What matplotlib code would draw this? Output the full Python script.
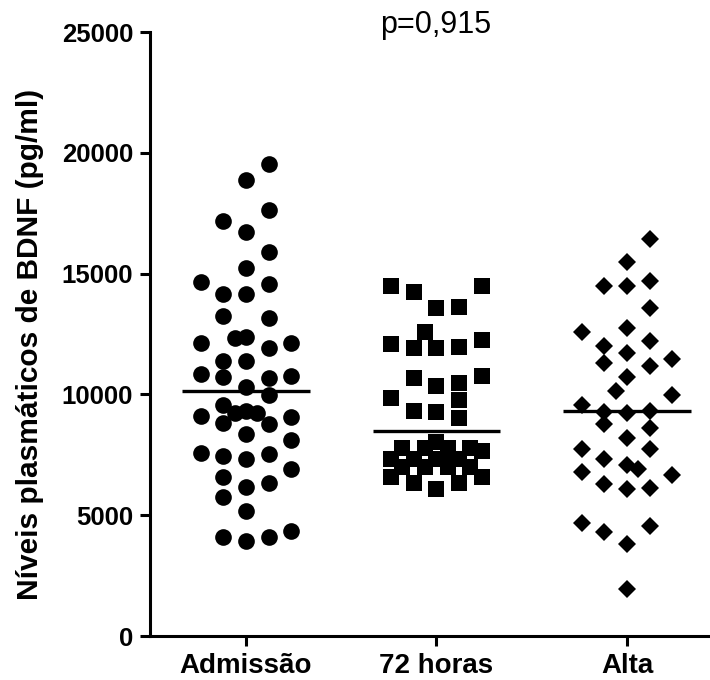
import matplotlib
matplotlib.use("Agg")
import matplotlib.pyplot as plt
import numpy as np

plt.rcParams['font.family'] = ['Liberation Sans', 'DejaVu Sans']

categories = ["Admissão", "72 horas", "Alta"]
ylabel = "Níveis plasmáticos de BDNF (pg/ml)"
p_text = "p=0,915"
yticks = [0, 5000, 10000, 15000, 20000, 25000]

# Admissão (circles)
adm_vals = [19536, 18874, 17632, 17190, 16709, 15907, 15217, 14640, 14155, 14155,
            14570, 13245, 13150, 12115, 12322, 12388, 11908, 12140, 11395, 11395,
            10832, 10733, 10666, 10761, 10318, 9975, 9561, 9217, 9325, 9217,
            9118, 8804, 8775, 9052, 8361, 8112, 7587, 7463, 7326, 7533,
            6900, 6594, 6153, 6318, 5741, 5186, 4110, 3945, 4085, 4358]
adm_cols = [1, 0, 1, -1, 0, 1, 0, -2, -1, 0,
            1, -1, 1, -2, -0.5, 0, 1, 2, -1, 0,
            -2, -1, 1, 2, 0, 1, -1, -0.5, 0, 0.5,
            -2, -1, 1, 2, 0, 2, -2, -1, 0, 1,
            2, -1, 0, 1, -1, 0, -1, 0, 1, 2]

# 72 horas (squares)
h72_vals = [14487, 14224, 14487, 13563, 13631, 12596, 12074, 11935, 11908, 11976,
            12253, 10692, 10348, 10458, 10775, 9838, 9313, 9285, 9768, 9010,
            8030, 7794, 7794, 7794, 7794, 7670,
            7339, 7339, 7339, 7339, 7170,
            7007, 7007, 7007, 7007,
            6569, 6569, 6320, 6320, 6084]
h72_cols = [-2, -1, 2, 0, 1, -0.5, -2, -1, 0, 1,
            2, -1, 0, 1, 2, -2, -1, 0, 1, 1,
            0, -1.5, -0.5, 0.5, 1.5, 2,
            -2, -1, 0, 1, 0.5,
            -1.5, -0.5, 0.5, 1.5,
            -2, 2, -1, 1, 0]

# Alta (diamonds)
alta_vals = [16432, 15467, 14487, 14487, 14694, 13563, 12596, 12736, 12017, 12225,
             11701, 11315, 11177, 11453, 10733, 10154, 9975, 9561, 9285, 9243,
             9325, 8762, 8597, 8208, 7728, 7728, 7314, 7078, 6900, 6800,
             6664, 6279, 6084, 6138, 4690, 4317, 4553, 3808, 1933]
alta_cols = [1, 0, -1, 0, 1, 1, -2, 0, -1, 1,
             0, -1, 1, 2, 0, -0.5, 2, -2, -1, 0,
             1, -1, 1, 0, -2, 1, -1, 0, 0.5, -2,
             2, -1, 0, 1, -2, -1, 1, 0, 0]

medians = [10150, 8490, 9310]

fig = plt.figure(figsize=(7.1, 6.8), dpi=100)
ax = fig.add_axes([150/710, 44/680, 560/710, 604/680])

col_step = 0.119
groups = [(adm_vals, adm_cols, 'o', 12),
          (h72_vals, h72_cols, 's', 11),
          (alta_vals, alta_cols, 'D', 9.5)]
for i, (vals, cols, mk, ms) in enumerate(groups):
    x = i + np.array(cols) * col_step
    ax.plot(x, vals, linestyle='none', marker=mk, markersize=ms,
            color='black', markeredgewidth=0, clip_on=False)
    ax.plot([i - 0.335, i + 0.335], [medians[i], medians[i]], color='black',
            linewidth=2.4, solid_capstyle='butt')

ax.set_xlim(-0.504, 2.436)
ax.set_ylim(0, 25000)
ax.set_yticks(yticks)
ax.set_yticklabels([str(t) for t in yticks], fontsize=18.5, fontweight='bold')
ax.set_xticks(range(len(categories)))
ax.set_xticklabels(categories, fontsize=20, fontweight='bold')

for s in ['top', 'right']:
    ax.spines[s].set_visible(False)
for s in ['left', 'bottom']:
    ax.spines[s].set_linewidth(2.2)
ax.tick_params(axis='both', width=2.2, length=7.2, color='black', pad=5)

fig.text(30/710, 1 - 344/680, ylabel, rotation=90, ha='center', va='center',
         fontsize=21.5, fontweight='bold')
fig.text(436/710, 1 - 25/680, p_text, ha='center', va='center', fontsize=22)

fig.savefig("out.png", dpi=100)
